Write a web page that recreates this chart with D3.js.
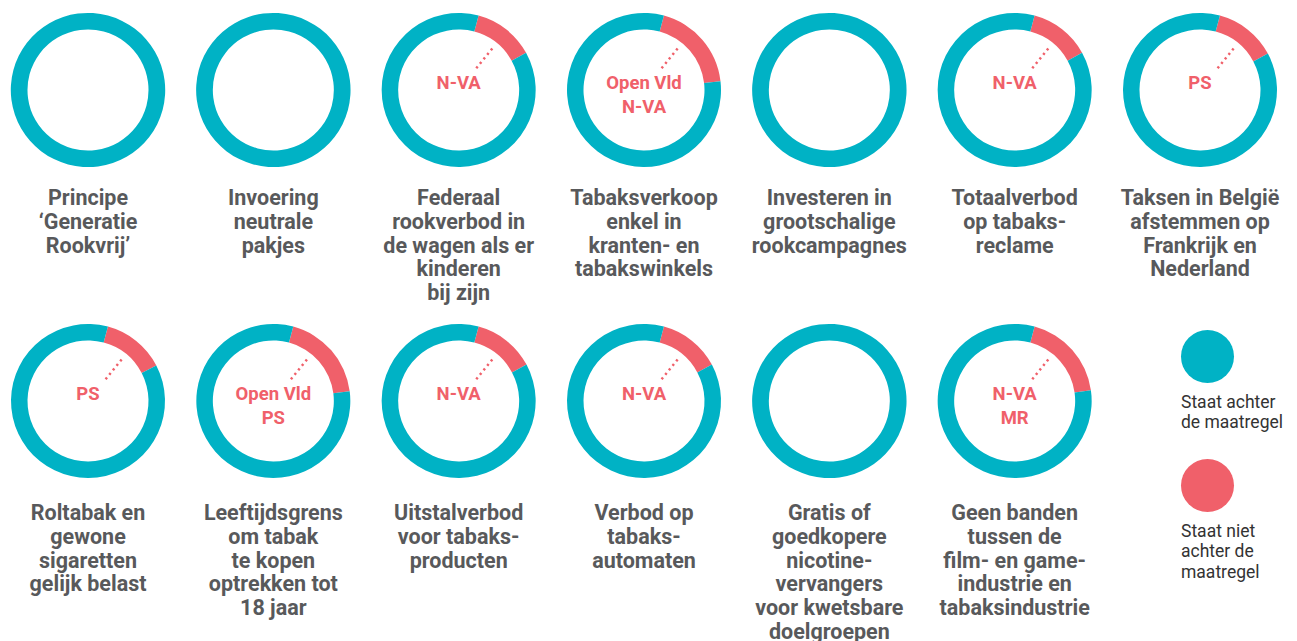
<!DOCTYPE html>
<html>
<head>
<meta charset="utf-8">
<script src="https://cdn.jsdelivr.net/npm/d3@7"></script>
<style>
  html, body { margin: 0; padding: 0; background: #fff; }
  svg { display: block; }
</style>
</head>
<body>
<svg id="chart" width="1297" height="641"></svg>
<script>
// ---- data ----
const measures = [
  ["Principe", "‘Generatie", "Rookvrij’"],
  ["Invoering", "neutrale", "pakjes"],
  ["Federaal", "rookverbod in", "de wagen als er", "kinderen", "bij zijn"],
  ["Tabaksverkoop", "enkel in", "kranten- en", "tabakswinkels"],
  ["Investeren in", "grootschalige", "rookcampagnes"],
  ["Totaalverbod", "op tabaks-", "reclame"],
  ["Taksen in België", "afstemmen op", "Frankrijk en", "Nederland"],
  ["Roltabak en", "gewone", "sigaretten", "gelijk belast"],
  ["Leeftijdsgrens", "om tabak", "te kopen", "optrekken tot", "18 jaar"],
  ["Uitstalverbod", "voor tabaks-", "producten"],
  ["Verbod op", "tabaks-", "automaten"],
  ["Gratis of", "goedkopere", "nicotine-", "vervangers", "voor kwetsbare", "doelgroepen"],
  ["Geen banden", "tussen de", "film- en game-", "industrie en", "tabaksindustrie"]
];
const partiesAgainst = [
  [], [], ["N-VA"], ["Open Vld", "N-VA"], [], ["N-VA"], ["PS"],
  ["PS"], ["Open Vld", "PS"], ["N-VA"], ["N-VA"], [], ["N-VA", "MR"]
];
// share of the ring (percent) for "staat niet achter de maatregel"
const againstShare = [0, 0, 12.8, 19, 0, 12.8, 13, 13.2, 18.8, 13, 13, 0, 18.6];
const forShare = againstShare.map(v => 100 - v);
const legendLabels = [
  ["Staat achter", "de maatregel"],
  ["Staat niet", "achter de", "maatregel"]
];

// ---- style ----
const TEAL = "#00b2c5";
const RED = "#f0606a";
const TEXT = "#58595b";
const outerR = 77, innerR = 60.5;
const startDeg = 15;

const svg = d3.select("#chart");

const xCol = d3.scalePoint().domain(d3.range(7)).range([88, 1200]);
const yRow = d3.scalePoint().domain([0, 1]).range([90, 401]);
const yTitle = d3.scalePoint().domain([0, 1]).range([205, 520]);

const pie = d3.pie().sort(null).value(d => d)
  .startAngle(startDeg * Math.PI / 180)
  .endAngle(startDeg * Math.PI / 180 + 2 * Math.PI);
const arc = d3.arc().innerRadius(innerR).outerRadius(outerR);

const items = measures.map((m, i) => ({
  title: m,
  parties: partiesAgainst[i],
  values: [againstShare[i], forShare[i]],
  col: i % 7,
  row: Math.floor(i / 7)
}));

const g = svg.selectAll("g.item").data(items).join("g")
  .attr("class", "item")
  .attr("transform", d => `translate(${xCol(d.col)},${yRow(d.row)})`);

g.selectAll("path.slice")
  .data(d => pie(d.values))
  .join("path")
  .attr("class", "slice")
  .attr("d", arc)
  .attr("fill", (d, i) => i === 0 ? RED : TEAL);

// dotted pointer
const pointerAngle = 39 * Math.PI / 180;
g.filter(d => d.parties.length > 0)
  .append("line")
  .attr("x1", Math.sin(pointerAngle) * 28)
  .attr("y1", -Math.cos(pointerAngle) * 28)
  .attr("x2", Math.sin(pointerAngle) * 56)
  .attr("y2", -Math.cos(pointerAngle) * 56)
  .attr("stroke", RED)
  .attr("stroke-width", 2.5)
  .attr("stroke-dasharray", "2.2 3.6");

g.each(function(d) {
  const sel = d3.select(this);
  d.parties.forEach((p, k) => {
    sel.append("text")
      .attr("x", 0)
      .attr("y", -1 + k * 23.5)
      .attr("text-anchor", "middle")
      .attr("font-family", "Roboto, sans-serif")
      .attr("font-weight", 700)
      .attr("font-size", 18.5)
      .attr("fill", RED)
      .text(p);
  });
});

// measure titles
const tg = svg.selectAll("g.title").data(items).join("g")
  .attr("class", "title")
  .attr("transform", d => `translate(${xCol(d.col)},${yTitle(d.row)})`);
tg.each(function(d) {
  const sel = d3.select(this);
  d.title.forEach((t, k) => {
    sel.append("text")
      .attr("x", 0)
      .attr("y", k * 23.8)
      .attr("text-anchor", "middle")
      .attr("font-family", "Roboto, sans-serif")
      .attr("font-weight", 700)
      .attr("font-size", 21.5)
      .attr("fill", TEXT)
      .text(t);
  });
});

// legend
const legendColors = [TEAL, RED];
const lg = svg.selectAll("g.legend").data(legendLabels).join("g")
  .attr("class", "legend")
  .attr("transform", (d, i) => `translate(1181,${[330, 459][i]})`);
lg.append("circle")
  .attr("cx", 26.5).attr("cy", 26.5).attr("r", 26.5)
  .attr("fill", (d, i) => legendColors[i]);
lg.each(function(lines) {
  const s = d3.select(this);
  lines.forEach((t, k) => {
    s.append("text")
      .attr("x", 0)
      .attr("y", 77.5 + k * 20.7)
      .attr("font-family", "Roboto, sans-serif")
      .attr("font-size", 17.5)
      .attr("fill", "#333")
      .text(t);
  });
});
</script>
</body>
</html>
